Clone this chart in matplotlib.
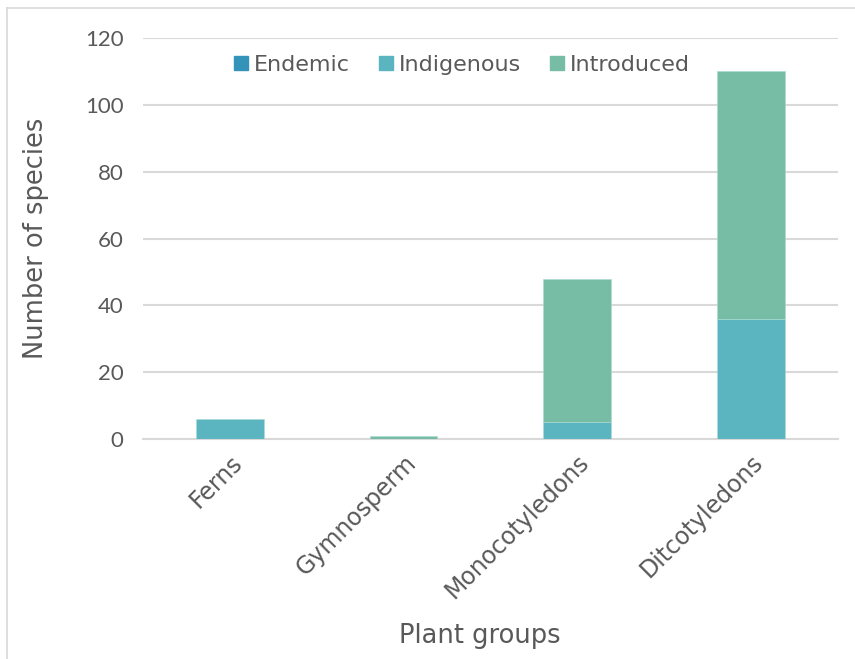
import matplotlib
matplotlib.use("Agg")
import matplotlib.pyplot as plt
from matplotlib.lines import Line2D
import numpy as np

groups = ["Ferns", "Gymnosperm", "Monocotyledons", "Ditcotyledons"]
endemic = [0, 0, 0, 0]
indigenous = [6, 0, 5, 36]
introduced = [0, 1, 43, 74]

series_names = ["Endemic", "Indigenous", "Introduced"]
series_colors = ["#3493B8", "#5AB5C0", "#77BDA5"]
yticks = [0, 20, 40, 60, 80, 100, 120]

text_color = "#595959"
grid_color = "#D9D9D9"
label_font = ["DejaVu Sans"]

plt.rcParams["font.family"] = ["Lato", "DejaVu Sans"]

fig = plt.figure(figsize=(8.55, 6.59), dpi=100)
ax = fig.add_axes([0.1673, 0.3338, 0.8127, 0.6085])

x = np.arange(len(groups))
width = 0.39
bottom = np.zeros(len(groups))
for name, vals, color in zip(series_names, [endemic, indigenous, introduced], series_colors):
    vals = np.array(vals, dtype=float)
    ax.bar(x, vals, width, bottom=bottom, color=color, label=name,
           edgecolor="#A9DCD6", linewidth=0.4, zorder=3)
    bottom += vals

ax.set_xlim(-0.5, len(groups) - 0.5)
ax.set_ylim(0, 120)
ax.set_yticks(yticks)
ax.yaxis.grid(True, color=grid_color, linewidth=1.5, zorder=0)
ax.set_axisbelow(True)
for s in ["top", "right", "left"]:
    ax.spines[s].set_visible(False)
ax.spines["bottom"].set_color(grid_color)
ax.spines["bottom"].set_linewidth(1.5)
ax.spines["bottom"].set_zorder(1)
ax.tick_params(axis="both", length=0, colors=text_color, labelsize=16)
ax.tick_params(axis="y", pad=14)
ax.tick_params(axis="x", pad=8)
ax.set_xticks(x)
ax.set_xticklabels(groups, rotation=45, ha="right", rotation_mode="anchor",
                   family=label_font, fontsize=17)

fig.text(0.042, 0.639, "Number of species", rotation=90, ha="center", va="center",
         fontsize=18.5, color=text_color, family=label_font)
fig.text(0.561, 0.035, "Plant groups", ha="center", va="center",
         fontsize=18.5, color=text_color, family=label_font)

handles = [Line2D([], [], marker="s", linestyle="none", markersize=10,
                  markerfacecolor=c, markeredgecolor=c) for c in series_colors]
fig.legend(handles, series_names, loc="center", bbox_to_anchor=(0.54, 0.901),
           ncol=3, frameon=False, labelcolor=text_color,
           prop={"family": label_font, "size": 16},
           handlelength=0.7, handletextpad=0.2, columnspacing=1.3)

# chart-area frame (left and top edges)
fig.add_artist(Line2D([0.0082, 0.0082], [0.0, 0.988], transform=fig.transFigure,
                      color="#D9D9D9", linewidth=1.2))
fig.add_artist(Line2D([0.0082, 1.0], [0.988, 0.988], transform=fig.transFigure,
                      color="#D9D9D9", linewidth=1.2))

fig.savefig("out.png", dpi=100, facecolor="white")
